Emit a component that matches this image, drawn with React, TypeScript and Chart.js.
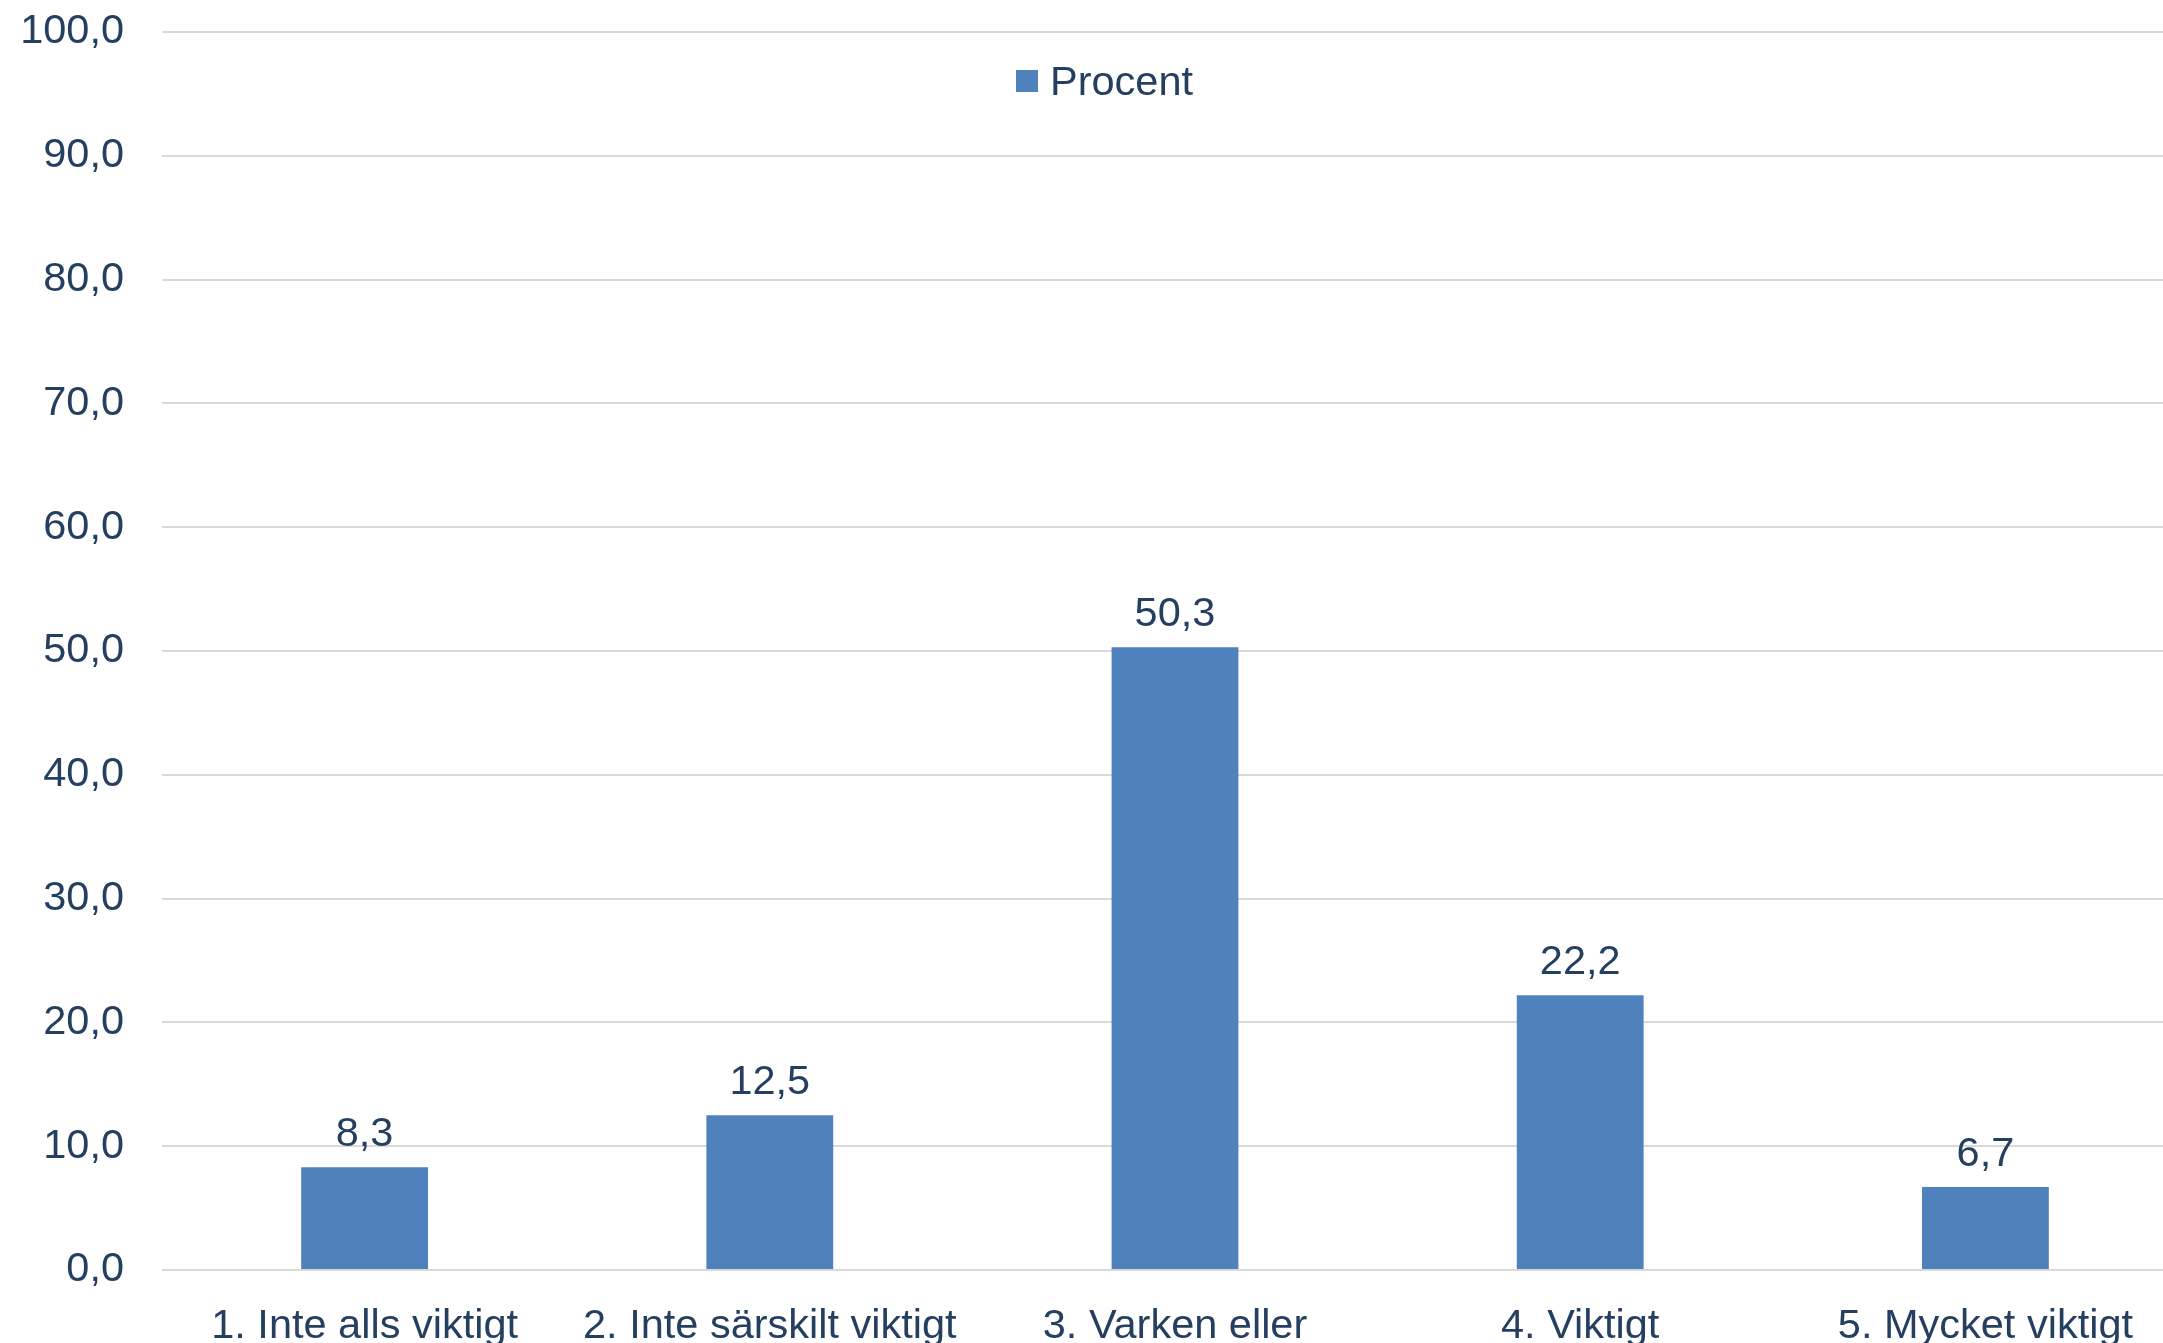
import React, { useEffect, useRef } from "react";
import { Chart, registerables } from "chart.js";

Chart.register(...registerables);

const categories = [
  "1. Inte alls viktigt",
  "2. Inte särskilt viktigt",
  "3. Varken eller",
  "4. Viktigt",
  "5. Mycket viktigt",
];
const seriesName = "Procent";
const values = [8.3, 12.5, 50.3, 22.2, 6.7];
const yMin = 0;
const yMax = 100;
const yStep = 10;

const fmt = (v: number) => v.toFixed(1).replace(".", ",");

const FONT = "'Liberation Sans', Arial, sans-serif";
const TEXT = "#243f60";
const BAR = "#4f81bd";
const GRID = "#d9d9d9";
const FS = 41.5;

const valueLabels = {
  id: "valueLabels",
  afterDatasetsDraw(chart: any) {
    const ctx = chart.ctx;
    const meta = chart.getDatasetMeta(0);
    const data = chart.data.datasets[0].data as number[];
    ctx.save();
    ctx.font = `${FS}px ${FONT}`;
    ctx.fillStyle = TEXT;
    ctx.textAlign = "center";
    ctx.textBaseline = "alphabetic";
    meta.data.forEach((bar: any, i: number) => {
      ctx.fillText(fmt(data[i]), bar.x, bar.y - 21);
    });
    ctx.restore();
  },
};

const innerLegend = {
  id: "innerLegend",
  afterDraw(chart: any) {
    const ctx = chart.ctx;
    const ds = chart.data.datasets[0];
    ctx.save();
    ctx.fillStyle = ds.backgroundColor;
    ctx.fillRect(1016, 70, 22, 22);
    ctx.font = `${FS}px ${FONT}`;
    ctx.fillStyle = TEXT;
    ctx.textAlign = "left";
    ctx.textBaseline = "alphabetic";
    ctx.fillText(ds.label, 1050, 95);
    ctx.restore();
  },
};

export default function App() {
  const ref = useRef<HTMLCanvasElement>(null);

  useEffect(() => {
    document.body.style.margin = "0";
    const chart = new Chart(ref.current!, {
      type: "bar",
      data: {
        labels: categories,
        datasets: [
          {
            label: seriesName,
            data: values,
            backgroundColor: BAR,
            borderWidth: 0,
            categoryPercentage: 1,
            barPercentage: 0.313,
          },
        ],
      },
      options: {
        responsive: false,
        animation: false,
        layout: { padding: { left: 20, top: 32, right: 0, bottom: 0 } },
        plugins: {
          legend: { display: false },
          tooltip: { enabled: false },
        },
        scales: {
          x: {
            grid: { display: false },
            border: { display: false },
            ticks: {
              color: TEXT,
              font: { family: FONT, size: FS },
              padding: 24,
              maxRotation: 0,
              autoSkip: false,
            },
            afterFit: (s: any) => {
              s.height = 73;
              s.paddingLeft = 0;
              s.paddingRight = 0;
            },
          },
          y: {
            min: yMin,
            max: yMax,
            grid: { color: GRID, lineWidth: 2, drawTicks: false },
            border: { display: false },
            ticks: {
              stepSize: yStep,
              color: TEXT,
              font: { family: FONT, size: FS },
              padding: 38,
              callback: (v: any) => fmt(Number(v)),
            },
            afterFit: (s: any) => {
              s.width = 142;
              s.paddingTop = 0;
              s.paddingBottom = 0;
            },
          },
        },
      },
      plugins: [valueLabels, innerLegend],
    });
    return () => chart.destroy();
  }, []);

  return (
    <div style={{ width: 2163, height: 1343, overflow: "hidden", position: "relative" }}>
      <canvas ref={ref} width={2188} height={1343} style={{ display: "block" }} />
    </div>
  );
}
